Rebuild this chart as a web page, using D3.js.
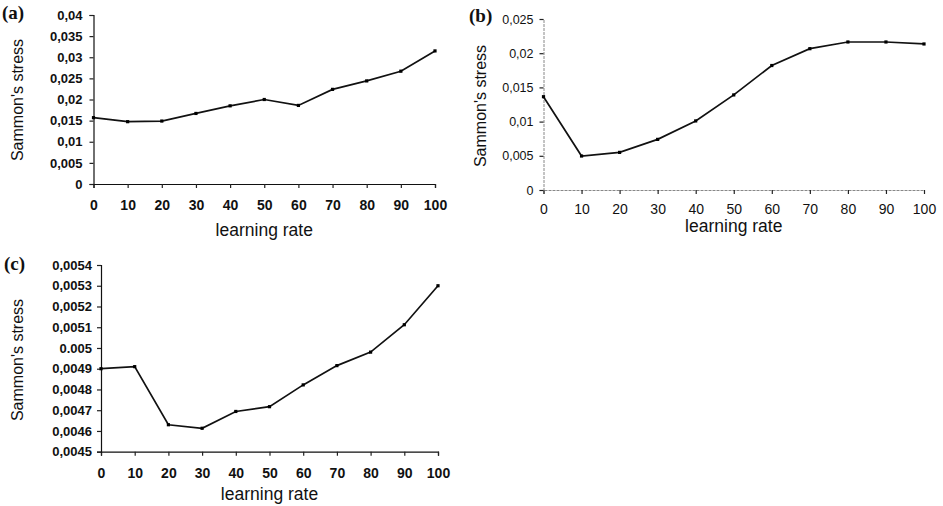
<!DOCTYPE html>
<html><head><meta charset="utf-8">
<script src="https://cdn.jsdelivr.net/npm/d3@7"></script>
<style>body{margin:0;background:#fff}svg{display:block}</style>
</head><body><svg id="c" width="943" height="506"></svg>
<script>
const rates = [0,10,20,30,40,50,60,70,80,90,100];
const stressA = [0.0157,0.01475,0.0149,0.0167,0.0185,0.0200,0.0186,0.0224,0.0244,0.0267,0.0315];
const stressB = [0.01364,0.00497,0.0055,0.0074,0.0101,0.0139,0.0182,0.02066,0.02164,0.02164,0.02135];
const stressC = [0.00490,0.00491,0.00463,0.004613,0.004694,0.004717,0.004822,0.004915,0.00498,0.005112,0.00530];
const ticksA = [0,0.005,0.01,0.015,0.02,0.025,0.03,0.035,0.04];
const tickLabelsA = ["0","0,005","0,01","0,015","0,02","0,025","0,03","0,035","0,04"];
const ticksB = [0,0.005,0.01,0.015,0.02,0.025];
const tickLabelsB = ["0","0,005","0,01","0,015","0,02","0,025"];
const ticksC = [0.0045,0.0046,0.0047,0.0048,0.0049,0.005,0.0051,0.0052,0.0053,0.0054];
const tickLabelsC = ["0,0045","0,0046","0,0047","0,0048","0,0049","0.005","0,0051","0,0052","0,0053","0,0054"];
const xTicks = rates;

const svg = d3.select("#c");
const font = "Liberation Sans, Arial, sans-serif";

function panel(o){
  const g = svg.append("g");
  const x = d3.scaleLinear().domain([0,100]).range([o.x0,o.x1]);
  const y = d3.scaleLinear().domain(o.dom).range([o.y0,o.y1]);
  const ax = g.append("g").attr("transform",`translate(0,${o.y0})`)
    .call(d3.axisBottom(x).tickValues(xTicks).tickSize(4).tickPadding(o.xpad).tickFormat(d3.format("d")));
  const ay = g.append("g").attr("transform",`translate(${o.x0},0)`)
    .call(d3.axisLeft(y).tickValues(o.ticks).tickSize(4).tickPadding(o.ypad).tickFormat((d,i)=>o.labels[i]));
  [ax,ay].forEach(a=>{
    a.selectAll("text").attr("font-family",font).attr("fill","#111").attr("font-weight",o.fw);
    a.selectAll("line").attr("stroke","#222").attr("stroke-width",1.2);
    a.select(".domain").attr("stroke",o.axisColor).attr("stroke-width",o.axisW).attr("stroke-dasharray",o.dash);
  });
  ax.selectAll("text").attr("font-size",o.xfs);
  ay.selectAll("text").attr("font-size",o.fs);
  const vals = o.vals;
  g.append("path").datum(rates.map((r,i)=>[r,vals[i]]))
    .attr("d",d3.line().x(d=>x(d[0])).y(d=>y(d[1])))
    .attr("fill","none").attr("stroke","#111").attr("stroke-width",1.7);
  g.selectAll("rect.m").data(rates.map((r,i)=>[r,vals[i]])).enter().append("rect")
    .attr("x",d=>x(d[0])-1.6).attr("y",d=>y(d[1])-1.6).attr("width",3.2).attr("height",3.2)
    .attr("fill","#000");
  g.append("text").attr("x",o.lx).attr("y",o.ly).text(o.tag)
    .attr("font-family","Liberation Serif, Times New Roman, serif").attr("font-weight","bold").attr("font-size",19).attr("fill","#111");
  g.append("text").attr("x",(o.x0+o.x1)/2).attr("y",o.xty).attr("text-anchor","middle").text("learning rate")
    .attr("font-family",font).attr("font-size",17.5).attr("fill","#111");
  g.append("text").attr("transform",`translate(${o.ytx},${o.yty}) rotate(-90)`).attr("text-anchor","middle").text("Sammon's stress")
    .attr("font-family",font).attr("font-size",16).attr("fill","#111");
}

panel({x0:93.5,x1:435,y0:184,y1:15,dom:[0,0.04],ticks:ticksA,labels:tickLabelsA,vals:stressA,
  xpad:12,ypad:7,fs:13,xfs:14,fw:"bold",axisColor:"#111",axisW:1.2,dash:null,
  tag:"(a)",lx:2,ly:19,xty:236,ytx:23,yty:100});
panel({x0:543.5,x1:924,y0:190,y1:19,dom:[0,0.025],ticks:ticksB,labels:tickLabelsB,vals:stressB,
  xpad:10,ypad:6,fs:12.5,xfs:14,fw:"normal",axisColor:"#888",axisW:1,dash:"3,1",
  tag:"(b)",lx:469,ly:22,xty:232,ytx:486,yty:106});
panel({x0:101,x1:438,y0:451.7,y1:265,dom:[0.0045,0.0054],ticks:ticksC,labels:tickLabelsC,vals:stressC,
  xpad:12,ypad:5,fs:13,xfs:14,fw:"bold",axisColor:"#111",axisW:1.2,dash:null,
  tag:"(c)",lx:4,ly:270,xty:500,ytx:23,yty:360});
</script></body></html>
